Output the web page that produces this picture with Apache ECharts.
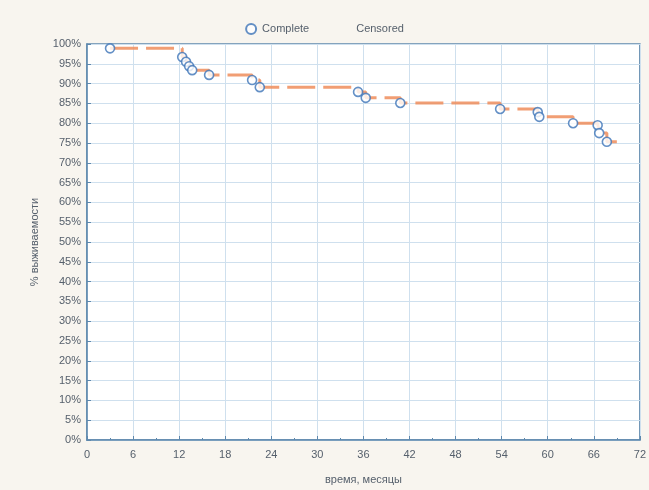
<!DOCTYPE html>
<html><head><meta charset="utf-8">
<script src="https://cdn.jsdelivr.net/npm/echarts@6/dist/echarts.min.js"></script>
<style>html,body{margin:0;padding:0;background:#f8f5ef}#c{width:649px;height:490px}</style>
</head><body><div id="c"></div>
<script>
// Complete (event) observations: time in months, survival %
const completeTimes = [3, 12.4, 12.9, 13.3, 13.7, 15.9, 21.5, 22.5, 35.3, 36.3, 40.8, 53.8, 58.7, 58.9, 63.3, 66.5, 66.7, 67.7];
const completeSurv  = [98.9, 96.7, 95.5, 94.4, 93.4, 92.2, 90.9, 89.1, 87.9, 86.4, 85.1, 83.6, 82.8, 81.6, 80.0, 79.5, 77.5, 75.3];
// Survival step curve (censored marks drawn along it)
const stepTimes = [3, 12.4, 12.9, 13.3, 13.7, 15.9, 21.5, 22.5, 35.3, 36.3, 40.8, 53.8, 58.7, 58.9, 63.3, 66.5, 66.7, 67.7, 69];
const stepSurv  = [98.9, 96.7, 95.5, 94.4, 93.4, 92.2, 90.9, 89.1, 87.9, 86.4, 85.1, 83.6, 82.8, 81.6, 80.0, 79.5, 77.5, 75.3, 75.3];
const xTicks = [0, 6, 12, 18, 24, 30, 36, 42, 48, 54, 60, 66, 72];

const chart = echarts.init(document.getElementById('c'));
const txt = '#56606c';
chart.setOption({
  backgroundColor: '#f8f5ef',
  animation: false,
  legend: {
    top: 18, left: 'center', itemGap: 30, itemWidth: 12, itemHeight: 10,
    textStyle: { color: txt, fontSize: 11, fontFamily: 'Liberation Sans' },
    data: [{ name: 'Complete', icon: 'circle' }, { name: 'Censored', icon: 'rect', itemStyle: { color: 'rgba(0,0,0,0)' } }]
  },
  grid: { left: 87, right: 9, top: 44, bottom: 50, show: true, backgroundColor: '#ffffff', borderColor: '#5e88ad', borderWidth: 1.5 },
  xAxis: {
    type: 'value', min: 0, max: 72, interval: 6,
    name: 'время, месяцы', nameLocation: 'middle', nameGap: 34,
    nameTextStyle: { color: txt, fontSize: 11, fontFamily: 'Liberation Sans' },
    axisLine: { show: true, lineStyle: { color: '#5e88ad', width: 1.5 } },
    axisTick: { show: true, inside: true, length: 4, lineStyle: { color: '#5e88ad' } },
    minorTick: { show: true, splitNumber: 2, length: 2, lineStyle: { color: '#5e88ad' } },
    axisLabel: { color: txt, fontSize: 11, fontFamily: 'Liberation Sans', margin: 9 },
    splitLine: { show: true, lineStyle: { color: '#cfe0ee', width: 1 } }
  },
  yAxis: {
    type: 'value', min: 0, max: 100, interval: 5,
    name: '% выживаемости', nameLocation: 'middle', nameGap: 47, nameRotate: 90,
    nameTextStyle: { color: txt, fontSize: 11, fontFamily: 'Liberation Sans' },
    axisLine: { show: true, lineStyle: { color: '#5e88ad', width: 1.5 } },
    axisTick: { show: true, inside: true, length: 4, lineStyle: { color: '#5e88ad' } },
    axisLabel: { color: txt, fontSize: 11, fontFamily: 'Liberation Sans', formatter: '{value}%', margin: 6 },
    splitLine: { show: true, lineStyle: { color: '#cfe0ee', width: 1 } }
  },
  series: [
    {
      name: 'Censored', type: 'line', step: 'end', showSymbol: false, z: 2,
      data: stepTimes.map((t, i) => [t, stepSurv[i]]),
      lineStyle: { color: '#ee8d5c', width: 3, type: [28, 8], opacity: 0.85 },
      itemStyle: { color: '#ee8d5c' }
    },
    {
      name: 'Complete', type: 'scatter', symbol: 'circle', symbolSize: 9, z: 3,
      data: completeTimes.map((t, i) => [t, completeSurv[i]]),
      itemStyle: { color: '#ffffff', borderColor: '#3d74b8', borderWidth: 1.6 }
    }
  ]
});
</script></body></html>
